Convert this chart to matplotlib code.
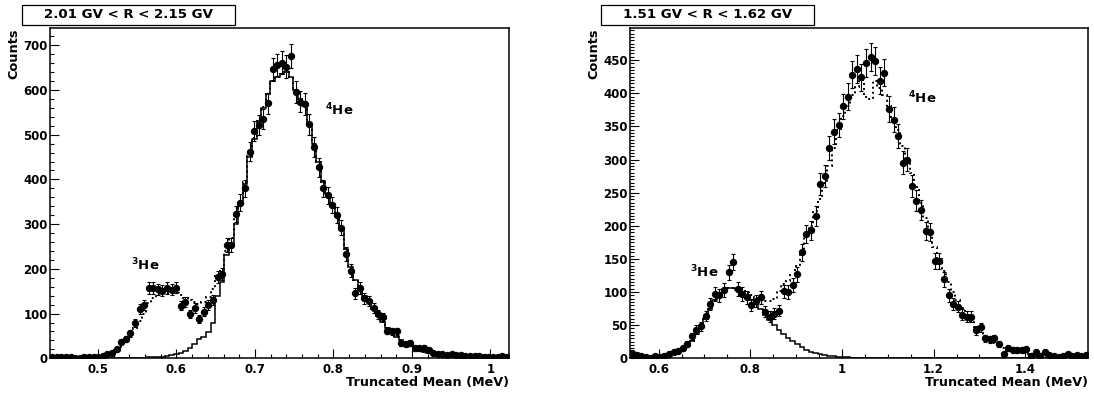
import numpy as np
import matplotlib
matplotlib.use("Agg")
import matplotlib.pyplot as plt
from matplotlib.patches import Rectangle
from matplotlib.ticker import MultipleLocator, FuncFormatter

plt.rcParams['font.family'] = ['DejaVu Sans']
plt.rcParams['font.weight'] = 'bold'
plt.rcParams['mathtext.default'] = 'bf'

# ---------------- Left panel data (2.01 GV < R < 2.15 GV) ----------------
left_range = (0.4389, 1.0237)
left_data = [4, 3, 4, 3, 2, 1, 1, 2, 2, 3, 4, 6,
             10, 11, 21, 37, 44, 56, 78, 110, 119, 157, 157, 154, 151, 157, 153, 158,
             118, 125, 99, 112, 88, 104, 119, 130, 181, 188, 253, 253, 323, 348, 380, 462,
             509, 522, 535, 570, 646, 656, 661, 652, 676, 595, 574, 569, 523, 473, 427, 380,
             365, 343, 321, 292,
             233, 196, 145, 157, 134, 129, 113, 98, 92, 62, 60, 60, 34, 32, 34, 22, 22, 24,
             19, 11, 10,
             9, 8, 9, 7, 7, 6, 6, 5, 5, 4, 3, 4, 3, 5, 4]
left_he4 = [0, 0, 0, 0, 0, 0, 0, 0, 0, 0, 0, 0, 0, 0, 0, 0, 0, 0,
            1, 1, 1, 2, 2, 3, 4, 5,
            7, 9, 12, 17, 22, 33, 43, 48, 58, 80, 140, 170, 230, 255, 300, 345, 390, 450,
            490, 530, 560, 590, 620, 628, 635, 640, 628, 600, 580, 565, 525, 480, 440, 395,
            368, 345, 320, 290,
            245, 205, 175, 158, 140, 125, 110, 95, 82, 68, 58, 48, 40, 33, 27, 22, 18, 14,
            11, 9, 7,
            6, 5, 4, 3, 3, 2, 2, 2, 1, 1, 1, 1, 1, 0, 0]
left_total = [0, 0, 0, 0, 0, 0, 1, 1, 1, 2,
              3, 5, 8, 12, 18, 26, 38, 52, 68, 84, 100, 123, 135, 143, 146, 147, 147, 146,
              141, 135, 130, 126, 122, 126, 136, 155, 185, 200, 240, 268, 318, 352, 395, 452,
              492, 531, 561, 591, 621, 628, 635, 640, 628, 600, 580, 565, 525, 480, 440, 395,
              368, 345, 320, 290,
              245, 205, 175, 158, 140, 125, 110, 95, 82, 68, 58, 48, 40, 33, 27, 22, 18, 14,
              11, 9, 7,
              6, 5, 4, 3, 3, 2, 2, 2, 1, 1, 1, 1, 1, 0, 0]

# ---------------- Right panel data (1.51 GV < R < 1.62 GV) ----------------
right_range = (0.5375, 1.5375)
right_data = [8, 5, 4, 2, 1, 3, 2, 4, 6,
              10, 11, 15, 22, 33, 43, 48, 64, 82, 97, 95, 103, 130, 145, 105, 97, 92, 80,
              86, 92, 70, 63, 67, 72, 101, 100, 110, 127, 160, 188, 193, 215,
              263, 275, 317, 342, 352, 380, 395, 428, 437, 424, 446, 455, 448, 419, 431, 376,
              360, 336, 295, 300, 260, 238, 224, 192, 191, 147, 147, 119,
              95, 82, 78, 66, 63, 63, 42, 47, 30, 29, 30, 22, 7, 15, 13, 12, 13, 14, 4, 10,
              4, 9, 5, 4, 2, 4, 7, 4, 5, 4, 5]
right_he3 = [0, 0, 0, 0, 1, 1, 2, 3, 4, 6,
             8, 12, 18, 26, 36, 46, 60, 74, 88, 95, 104, 106, 106, 103, 100, 95, 88, 82, 74, 66,
             58, 50, 43, 37, 31, 26, 21, 17, 13, 10, 8, 6, 5, 4, 3, 2, 2, 1.5, 1, 1,
             0.5, 0.5, 0.5, 0.3, 0.3, 0.2, 0, 0, 0, 0, 0, 0, 0, 0, 0, 0, 0, 0, 0, 0,
             0, 0, 0, 0, 0, 0, 0, 0, 0, 0, 0, 0, 0, 0, 0, 0, 0, 0, 0, 0,
             0, 0, 0, 0, 0, 0, 0, 0, 0, 0]
right_total = [0, 0, 0, 0, 1, 1, 2, 3, 4, 6, 8, 12, 18, 26, 36, 46, 60, 74, 88, 95, 104, 106, 106,
               104, 102, 99, 95, 91, 88, 86, 86, 90, 102, 112, 116, 125, 140, 162, 185, 200, 222,
               240, 265, 290, 318, 345, 365, 380, 398, 410, 420, 395, 392, 418, 408, 398, 380,
               362, 345, 320, 300, 280, 258, 235, 212, 190, 168, 150, 132, 115, 100, 88, 76,
               66, 56, 47, 40, 34, 28, 23, 19, 16, 13, 11, 9, 7.5, 6, 5, 4, 3.5, 3, 2.5, 2, 2,
               1.5, 1.2, 1, 1, 0.8, 0.6]

W, H = 1094, 397
fig = plt.figure(figsize=(W / 100, H / 100), dpi=100)


def px(x, y):
    return x / W, 1 - y / H


def fmt(v, pos):
    return '%g' % round(v, 6)


def panel(x0, x1, xr, ymax, data, solid, dotted, xmaj, xmin_, ymaj, ymin_,
          title, box_x, he3, he4):
    y0, y1 = 28.3, 358.3
    ax = fig.add_axes([x0 / W, 1 - y1 / H, (x1 - x0) / W, (y1 - y0) / H])
    data = np.asarray(data, float)
    edges = np.linspace(xr[0], xr[1], len(data) + 1)
    centers = 0.5 * (edges[:-1] + edges[1:])
    ax.stairs(solid, edges, color='k', lw=1.1, baseline=None)
    ax.stairs(dotted, edges, color='k', lw=1.4, ls=(0, (1, 1.6)), baseline=None)
    ax.errorbar(centers, data, yerr=np.sqrt(data), fmt='o', ms=4.3, color='k',
                ecolor='k', elinewidth=0.8, capsize=1.6, capthick=0.8, zorder=3)
    ax.set_xlim(*xr)
    ax.set_ylim(0, ymax)
    ax.xaxis.set_major_locator(MultipleLocator(xmaj))
    ax.xaxis.set_minor_locator(MultipleLocator(xmin_))
    ax.yaxis.set_major_locator(MultipleLocator(ymaj))
    ax.yaxis.set_minor_locator(MultipleLocator(ymin_))
    ax.xaxis.set_major_formatter(FuncFormatter(fmt))
    ax.tick_params(which='both', direction='in', top=False, right=False,
                   labelsize=8.5, width=0.8)
    ax.tick_params(which='major', length=6.5)
    ax.tick_params(which='minor', length=3.2)
    ax.tick_params(axis='x', pad=3.5)
    ax.tick_params(axis='y', pad=1.5)
    for s in ax.spines.values():
        s.set_linewidth(1.1)
    # title box
    bx, by = box_x, 4.5
    fig.patches.append(Rectangle(px(bx, by + 20.5), 213 / W, 20.5 / H,
                                 transform=fig.transFigure, facecolor='white',
                                 edgecolor='k', lw=0.9))
    fig.text(*px(bx + 106.5, by + 10.5), title, ha='center', va='center',
             fontsize=9.6, fontweight='bold')
    fig.text(*px(x0 - 36, y0), 'Counts', rotation=90, ha='center', va='top',
             fontsize=9.3, fontweight='bold')
    fig.text(*px(x1, 386), 'Truncated Mean (MeV)', ha='right', va='baseline',
             fontsize=9.2, fontweight='bold')
    fig.text(*px(*he3), r'$^{3}$He', ha='left', va='baseline', fontsize=9.5,
             fontweight='bold')
    fig.text(*px(*he4), r'$^{4}$He', ha='left', va='baseline', fontsize=9.5,
             fontweight='bold')
    return ax


panel(50, 509, left_range, 738, left_data, left_he4, left_total,
      0.1, 0.02, 100, 20, '2.01 GV < R < 2.15 GV', 22, (131, 270), (325, 115))
panel(630, 1088.3, right_range, 498, right_data, right_he3, right_total,
      0.2, 0.05, 50, 5, '1.51 GV < R < 1.62 GV', 601, (690, 277), (908, 103))

fig.savefig('out.png', dpi=100)
